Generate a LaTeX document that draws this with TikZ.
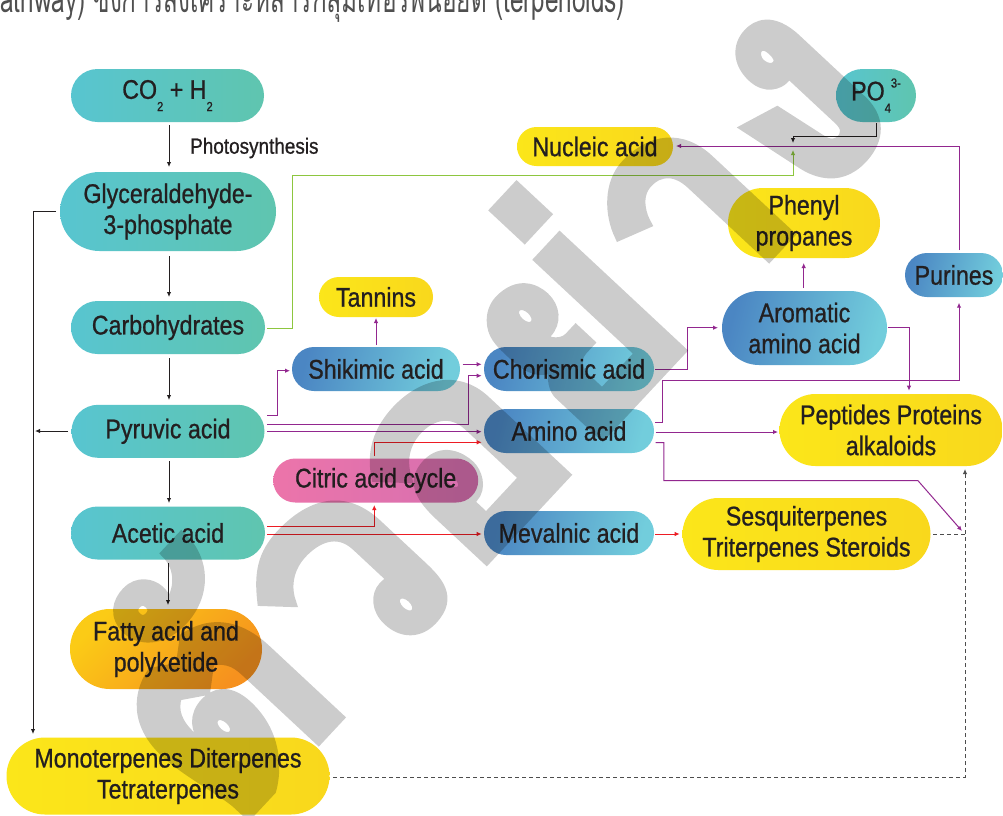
\documentclass[tikz,border=0pt]{standalone}
\usepackage{fontspec}
\setmainfont[FakeStretch=0.86,FakeBold=0.8]{Liberation Sans}
\newfontfamily\thaitop[Script=Thai,FakeStretch=0.64]{Loma}
\newfontfamily\wmfont[Script=Thai,FakeBold=3,FakeStretch=0.96]{Loma}
\usetikzlibrary{shapes.misc,arrows.meta}
\definecolor{tealL}{HTML}{58C5D0}
\definecolor{tealR}{HTML}{5FC5AF}
\definecolor{yelL}{HTML}{FBE61A}
\definecolor{yelR}{HTML}{F9D81C}
\definecolor{bluL}{HTML}{4B86C3}
\definecolor{bluR}{HTML}{72CDDC}
\definecolor{pinkL}{HTML}{EC74AA}
\definecolor{pinkR}{HTML}{D670B0}
\definecolor{orL}{HTML}{FBCB16}
\definecolor{orR}{HTML}{F6911E}
\definecolor{purp}{HTML}{92278F}
\definecolor{redl}{HTML}{ED1C24}
\definecolor{grn}{HTML}{8DC63F}
\definecolor{ink}{HTML}{231F20}
\definecolor{dash}{HTML}{4D4D4D}
\definecolor{toptext}{HTML}{505050}
\newcommand\mysub[1]{\raisebox{-0.45em}{\fontsize{13}{13}\selectfont #1}}
\newcommand\mysup[1]{\raisebox{0.48em}{\fontsize{13}{13}\selectfont #1}}
\begin{document}
\begin{tikzpicture}[x=1pt,y=-1pt,
  pill/.style={rounded rectangle, inner sep=0pt, align=center, text=ink,
    font=\fontsize{27}{31}\selectfont},
  tealbox/.style={pill, left color=tealL, right color=tealR},
  yelbox/.style={pill, left color=yelL, right color=yelR},
  blubox/.style={pill, left color=bluL, right color=bluR, shading angle=75},
  pinkbox/.style={pill, left color=pinkL, right color=pinkR},
  orbox/.style={pill, left color=orL, right color=orR, shading angle=45},
  tip/.style={-{Latex[length=5pt,width=4.5pt]}},
  blk/.style={line width=1pt, draw=ink, tip},
  pur/.style={line width=1pt, draw=purp, tip},
  red/.style={line width=1pt, draw=redl, tip},
  grnl/.style={line width=1pt, draw=grn, tip},
  dsh/.style={line width=1pt, draw=dash, dash pattern=on 4pt off 3pt},
  wmark/.style={text=black, inner sep=0pt,
    font=\wmfont\bfseries\fontsize{300}{300}\selectfont},
]
\clip (0,0) rectangle (1003,815);
\fill[white] (0,0) rectangle (1003,815);

% top (cut) text line
\node[anchor=base west, inner sep=0pt, text=toptext, font=\thaitop\fontsize{38}{38}\selectfont]
  (top) at (0,12.5) {athway) ซึ่งการสังเคราะห์สารกลุ่มเทอร์พีนอยด์ (terpenoids)};

% nodes
\node[tealbox, minimum width=193, minimum height=53] (co2) at (167.5,95.5)
  {CO\mysub{2} + H\mysub{2}};
\node[tealbox, minimum width=216, minimum height=79] (gly) at (168,211.5)
  {Glyceraldehyde-\\3-phosphate};
\node[tealbox, minimum width=194, minimum height=53] (carb) at (168,327.5) {Carbohydrates};
\node[tealbox, minimum width=193, minimum height=53] (pyr) at (168,431.3) {Pyruvic acid};
\node[tealbox, minimum width=194, minimum height=53] (acet) at (168,533) {Acetic acid};
\node[orbox, minimum width=192, minimum height=80] (fatty) at (166,649) {Fatty acid and\\polyketide};
\node[yelbox, minimum width=323, minimum height=77] (mono) at (168,776)
  {Monoterpenes Diterpenes\\Tetraterpenes};
\node[yelbox, minimum width=114, minimum height=40] (tann) at (376,297) {Tannins};
\node[blubox, minimum width=168, minimum height=44] (shik) at (376,369) {Shikimic acid};
\node[pinkbox, minimum width=205, minimum height=44] (citr) at (375.7,480.5) {Citric acid cycle};
\node[blubox, minimum width=170, minimum height=44] (chor) at (569,369) {Chorismic acid};
\node[blubox, minimum width=170, minimum height=44] (amino) at (569,431) {Amino acid};
\node[blubox, minimum width=170, minimum height=44] (meval) at (569,533) {Mevalnic acid};
\node[yelbox, minimum width=156, minimum height=39] (nucl) at (595,146.5) {Nucleic acid};
\node[tealbox, minimum width=80, minimum height=53] (po4) at (876,95.5) {PO\mysub{4}\mysup{3-}};
\node[yelbox, minimum width=152, minimum height=70] (phen) at (804,223) {Phenyl\\propanes};
\node[blubox, minimum width=165, minimum height=74] (arom) at (804.5,328) {Aromatic\\amino acid};
\node[blubox, minimum width=98, minimum height=44] (pur) at (954,275) {Purines};
\node[yelbox, minimum width=223, minimum height=72] (pept) at (891,430)
  {Peptides Proteins\\alkaloids};
\node[yelbox, minimum width=248, minimum height=72] (sesq) at (806.5,534)
  {Sesquiterpenes\\Triterpenes Steroids};

\coordinate (mergeT) at (793,143);
\coordinate (mergeB) at (793,150);
\coordinate (junc) at (965,534);
\coordinate (juncA) at (962,531);

% black connectors
\draw[blk] (169,125) -- (169,167);
\node[anchor=west, inner sep=0pt, text=ink, font=\fontsize{22}{22}\selectfont] (photo) at (190,148) {Photosynthesis};
\draw[blk] (169,256) -- (169,297);
\draw[blk] (169,358) -- (169,400);
\draw[blk] (169,461) -- (169,503);
\draw[blk] (168,563) -- (168,605);
\draw[blk] (56,211) -- (33,211) -- (33,734);
\draw[blk] (68,431) -- (35,431);
\draw[blk] (876.7,123) -- (876.7,136) -- (793,136) -- (mergeT);

% green
\draw[grnl] (267,328) -- (292,328) -- (292,175.7) -- (793,175.7) -- (mergeB);

% purple
\draw[pur] (959,250) -- (959,146) -- (676,146);
\draw[pur] (267,415.7) -- (277,415.7) -- (277,370.7) -- (290,370.7);
\draw[pur] (267,424.3) -- (468.3,424.3) -- (468.3,375.7) -- (481.7,375.7);
\draw[pur] (462.7,364.3) -- (481.7,364.3);
\draw[pur] (267,431.7) -- (481.7,431.7);
\draw[pur] (376,345) -- (376,318);
\draw[pur] (655,369) -- (687,369) -- (687,327.7) -- (718,327.7);
\draw[pur] (888,327.7) -- (909,327.7) -- (909,390.7);
\draw[pur] (655,422) -- (662.7,422) -- (662.7,380) -- (959,380) -- (959,302.7);
\draw[pur] (655.6,432) -- (778,432);
\draw[pur] (655.6,442.7) -- (663.8,442.7) -- (663.8,480.7) -- (918,480.7) -- (juncA);
\draw[pur] (803.7,288) -- (803.7,263);

% red
\draw[red] (374.3,456) -- (374.3,442.3) -- (481.7,442.3);
\draw[red] (267,526) -- (374.3,526) -- (374.3,505);
\draw[red] (267,534) -- (481.7,534);
\draw[red] (655,534) -- (679.7,534);

% dashed
\draw[dsh] (933,534) -- (junc);
\draw[dsh, tip] (333,777) -- (965,777) -- (965,469);

% watermark
\begin{scope}[transparency group, opacity=0.2]
\node[wmark, rotate=47] (wm) at (478,393) {ตัวอย่าง};
\end{scope}
\end{tikzpicture}
\end{document}
